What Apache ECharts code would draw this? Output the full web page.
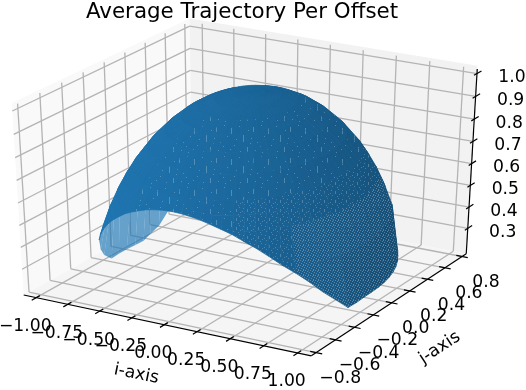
<!DOCTYPE html>
<html>
<head>
<meta charset="utf-8">
<style>html,body{margin:0;padding:0;background:#fff}#main{width:526px;height:390px}</style>
<script src="https://cdn.jsdelivr.net/npm/echarts@6/dist/echarts.min.js"></script>
</head>
<body>
<div id="main"></div>
<script>
// axis ticks
var iTicks = [-1, -0.75, -0.5, -0.25, 0, 0.25, 0.5, 0.75, 1];
var iLabels = ['\u22121.00', '\u22120.75', '\u22120.50', '\u22120.25', '0.00', '0.25', '0.50', '0.75', '1.00'];
var jTicks = [-0.8, -0.6, -0.4, -0.2, 0, 0.2, 0.4, 0.6, 0.8];
var jLabels = ['\u22120.8', '\u22120.6', '\u22120.4', '\u22120.2', '0.0', '0.2', '0.4', '0.6', '0.8'];
var zTicks = [0.3, 0.4, 0.5, 0.6, 0.7, 0.8, 0.9, 1.0];
var zLabels = ['0.3', '0.4', '0.5', '0.6', '0.7', '0.8', '0.9', '1.0'];
var iLim = [-1.1, 1.1];
var jLim = [-0.85, 0.85];
var zLim = [0.18, 1.02];

// height of the surface against distance from the centre of the i-j plane
var ringRadius = [0, 0.1, 0.2, 0.3, 0.4, 0.5, 0.6, 0.7, 0.75, 0.8, 0.85, 0.9, 0.95];
var ringHeight = [1, 0.995, 0.98, 0.954, 0.917, 0.866, 0.8, 0.714, 0.661, 0.6, 0.527, 0.436, 0.312];

// outer boundary of the surface, one entry per 5 degrees starting at -180
var edgeAngle = [-180, -175, -170, -165, -160, -155, -150, -145, -140, -135, -130, -125, -120, -115, -110, -105, -100, -95,
  -90, -85, -80, -75, -70, -65, -60, -55, -50, -45, -40, -35, -30, -25, -20, -15, -10, -5,
  0, 5, 10, 15, 20, 25, 30, 35, 40, 45, 50, 55, 60, 65, 70, 75, 80, 85,
  90, 95, 100, 105, 110, 115, 120, 125, 130, 135, 140, 145, 150, 155, 160, 165, 170, 175];
var edgeRadius = [0.90, 0.91, 0.92, 0.93, 0.945, 0.94, 0.93, 0.91, 0.89, 0.867, 0.845, 0.825, 0.805, 0.79, 0.777, 0.765, 0.757, 0.752,
  0.75, 0.752, 0.757, 0.765, 0.777, 0.79, 0.805, 0.825, 0.845, 0.867, 0.89, 0.91, 0.93, 0.95, 0.965, 0.98, 0.965, 0.95,
  0.945, 0.945, 0.945, 0.945, 0.945, 0.945, 0.945, 0.945, 0.95, 0.955, 0.96, 0.96, 0.96, 0.97, 0.97, 0.97, 0.97, 0.97,
  0.97, 0.97, 0.97, 0.97, 0.97, 0.97, 0.97, 0.97, 0.97, 0.975, 0.98, 0.97, 0.95, 0.94, 0.93, 0.93, 0.92, 0.90];
var edgeHeight = [0.21, 0.21, 0.21, 0.21, 0.25, 0.30, 0.367, 0.415, 0.456, 0.498, 0.535, 0.565, 0.593, 0.613, 0.63, 0.644, 0.653, 0.659,
  0.661, 0.659, 0.653, 0.644, 0.63, 0.613, 0.593, 0.565, 0.535, 0.498, 0.456, 0.415, 0.367, 0.312, 0.262, 0.21, 0.21, 0.21,
  0.21, 0.21, 0.21, 0.21, 0.21, 0.21, 0.21, 0.21, 0.21, 0.21, 0.21, 0.21, 0.21, 0.21, 0.21, 0.21, 0.21, 0.21,
  0.21, 0.21, 0.21, 0.21, 0.21, 0.21, 0.21, 0.21, 0.21, 0.21, 0.21, 0.24, 0.28, 0.30, 0.30, 0.24, 0.22, 0.21];

var font = 'DejaVu Sans';

// 3d camera, elevation 30 azimuth -60 at distance 10
function norm(p) {
  return [(p[0] - iLim[0]) / (iLim[1] - iLim[0]), (p[1] - jLim[0]) / (jLim[1] - jLim[0]), (p[2] - zLim[0]) / (zLim[1] - zLim[0])];
}
function boxProj(n) {
  var dx = n[0] - 0.5, dy = n[1] - 0.5, dz = n[2] - 0.5;
  var X = 0.866 * dx + 0.5 * dy;
  var Y = -0.25 * dx + 0.433 * dy + 0.866 * dz;
  var W = 0.433 * dx - 0.75 * dy + 0.5 * dz;
  return [X / (10 - W), Y / (10 - W), W];
}
function proj(i, j, z) {
  return boxProj(norm([i, j, z]));
}

// rows for line segments in the projected plane
var paneTop = 1.016;
function seg(a, b) {
  var p = boxProj(a), q = boxProj(b);
  return [p[0], p[1], q[0], q[1]];
}
var gridLines = [];
iTicks.forEach(function (v) {
  var n = norm([v, 0, 0.5])[0];
  gridLines.push(seg([n, 0, 0], [n, 1, 0]));
  gridLines.push(seg([n, 1, 0], [n, 1, 1]));
});
jTicks.forEach(function (v) {
  var n = norm([0, v, 0.5])[1];
  gridLines.push(seg([0, n, 0], [1, n, 0]));
  gridLines.push(seg([0, n, 0], [0, n, 1]));
});
zTicks.forEach(function (v) {
  var n = norm([0, 0, v])[2];
  gridLines.push(seg([0, 0, n], [0, 1, n]));
  gridLines.push(seg([0, 1, n], [1, 1, n]));
});

var axisLines = [seg([0, 0, 0], [1, 0, 0]), seg([1, 0, 0], [1, 1, 0]), seg([1, 1, 0], [1, 1, 1])];
iTicks.forEach(function (v) {
  var n = norm([v, 0, 0.5])[0];
  axisLines.push(seg([n, -0.025, 0], [n, 0.02, 0]));
});
jTicks.forEach(function (v) {
  var n = norm([0, v, 0.5])[1];
  axisLines.push(seg([1.02, n, 0], [0.98, n, 0]));
});
zTicks.forEach(function (v) {
  var n = norm([0, 0, v])[2];
  axisLines.push(seg([1, 1.03, n], [1, 0.98, n]));
});

var panes = [
  { color: '#f9f9f9', pts: [[0, 0, 0], [0, 1, 0], [0, 1, paneTop], [0, 0, paneTop]] },
  { color: '#f2f2f2', pts: [[0, 1, 0], [1, 1, 0], [1, 1, paneTop], [0, 1, paneTop]] },
  { color: '#f5f5f5', pts: [[0, 0, 0], [1, 0, 0], [1, 1, 0], [0, 1, 0]] }
].map(function (p) {
  return { color: p.color, pts: p.pts.map(boxProj) };
});

// labels, offsets in pixels from the tick on the axis
var labels = [];
iTicks.forEach(function (v, k) {
  var p = proj(v, jLim[0], zLim[0]);
  labels.push({ x: p[0], y: p[1], dx: -11, dy: 29, text: iLabels[k], rot: 0 });
});
jTicks.forEach(function (v, k) {
  var p = proj(iLim[1], v, zLim[0]);
  labels.push({ x: p[0], y: p[1], dx: 24, dy: 26, text: jLabels[k], rot: 0 });
});
zTicks.forEach(function (v, k) {
  var p = proj(iLim[1], jLim[1], v);
  labels.push({ x: p[0], y: p[1], dx: 35, dy: 4, text: zLabels[k], rot: 0 });
});
var iName = proj(-0.2, jLim[0], zLim[0]);
labels.push({ x: iName[0], y: iName[1], dx: -2, dy: 55, text: 'i-axis', rot: -0.2 });
var jName = proj(iLim[1], 0.1, zLim[0]);
labels.push({ x: jName[0], y: jName[1], dx: 39, dy: 51, text: 'j-axis', rot: 0.58 });

// surface mesh, one spoke of nodes per boundary entry
function node(r, deg, z) {
  var a = deg * Math.PI / 180;
  return [r * Math.cos(a), r * Math.sin(a), z];
}
var spokes = edgeAngle.map(function (deg, k) {
  var list = [];
  ringRadius.forEach(function (r, m) {
    if (r < edgeRadius[k] - 0.015) list.push(node(r, deg, ringHeight[m]));
  });
  list.push(node(edgeRadius[k], deg, edgeHeight[k]));
  return list;
});
var cells = [];
function addCell(pts, deg, rMid) {
  // newell normal in data units
  var nx = 0, ny = 0, nz = 0;
  pts.forEach(function (p, k) {
    var q = pts[(k + 1) % pts.length];
    nx += (p[1] - q[1]) * (p[2] + q[2]);
    ny += (p[2] - q[2]) * (p[0] + q[0]);
    nz += (p[0] - q[0]) * (p[1] + q[1]);
  });
  var len = Math.sqrt(nx * nx + ny * ny + nz * nz) || 1;
  if (nz < 0) len = -len;
  nx /= len; ny /= len; nz /= len;
  var s = -0.667 * nx - 0.667 * ny + 0.333 * nz;
  var ps = pts.map(norm).map(boxProj);
  var area = 0, w = 0;
  ps.forEach(function (p, k) {
    var q = ps[(k + 1) % ps.length];
    area += p[0] * q[1] - q[0] * p[1];
    w += p[2];
  });
  cells.push({ pts: ps, w: w / ps.length, shade: 0.79 + 0.19 * s, area: area, deg: deg, r: rMid });
}
edgeAngle.forEach(function (deg, k) {
  var a = spokes[k], b = spokes[(k + 1) % spokes.length];
  var common = Math.min(a.length, b.length) - 2;
  for (var m = 0; m < common; m++) {
    addCell([a[m], a[m + 1], b[m + 1], b[m]], deg + 2.5, ringRadius[m] + 0.05);
  }
  var poly = a.slice(common).concat(b.slice(common).reverse());
  addCell(poly, deg + 2.5, 0.92);
});
cells.sort(function (a, b) { return a.w - b.w; });

function tile(w, h, dots, color) {
  var c = document.createElement('canvas');
  c.width = w; c.height = h;
  var g = c.getContext('2d');
  g.fillStyle = color;
  dots.forEach(function (d) { g.fillRect(d[0], d[1], d[2] || 1, d[3] || 1); });
  return { image: c, repeat: 'repeat' };
}
var sparse = tile(37, 31, [[2, 1], [9, 4, 1, 6], [17, 2], [26, 6], [31, 3, 1, 5], [5, 12], [14, 15], [21, 11, 1, 7], [29, 14], [35, 18],
  [1, 22], [8, 25], [12, 21], [18, 27], [25, 23, 1, 5], [33, 26], [3, 28], [28, 19]], 'rgba(160,190,210,0.42)');
var medium = tile(11, 9, [[1, 1], [5, 2, 1, 3], [8, 0], [2, 6], [9, 5], [7, 7], [0, 4]], 'rgba(160,182,198,0.4)');
var dense = tile(5, 5, [[0, 0], [2, 1], [4, 2], [1, 3], [3, 4], [3, 0]], 'rgba(160,180,195,0.5)');

function cellStyle(c) {
  if (c.area <= 0) return { fill: 'rgba(31,119,180,0.68)' };
  var f = c.shade;
  var col = 'rgb(' + Math.round(31 * f) + ',' + Math.round(119 * f) + ',' + Math.round(180 * f) + ')';
  return { fill: col, stroke: col, lineWidth: 0.7 };
}
function cellPattern(c) {
  if (c.area <= 0) return null;
  var d = c.deg;
  if (d < -115 || d > 100 || c.r < 0.3) return null;
  if (c.r > 0.85 && d > -35 && d < 45) return dense;
  if (c.r > 0.7 && d > -60 && d < 60) return medium;
  return sparse;
}

var chart = echarts.init(document.getElementById('main'), null, { renderer: 'canvas' });

function polygonSeries(list, build) {
  return {
    type: 'custom', coordinateSystem: 'cartesian2d', silent: true, clip: false, animation: false, progressive: 0,
    data: list.map(function (o, k) { return [k, 0]; }),
    encode: { x: 0, y: 1 },
    renderItem: function (params, api) {
      var o = list[params.dataIndex];
      return build(o, api);
    }
  };
}
function shape(pts, api) {
  return pts.map(function (p) { return api.coord([p[0], p[1]]); });
}

var option = {
  animation: false,
  title: {
    text: 'Average Trajectory Per Offset', left: 237, top: -3, textAlign: 'center',
    textStyle: { fontFamily: font, fontSize: 21.4, fontWeight: 'normal', color: '#000' }
  },
  grid: { left: 0, top: 0, width: 526, height: 390 },
  // these two axes hold the projected plane of the 3d box
  xAxis: { type: 'value', show: false, min: -248.4 / 3320, max: (526 - 248.4) / 3320 },
  yAxis: { type: 'value', show: false, min: (183 - 390) / 2155, max: 183 / 2155 },
  series: [
    polygonSeries(panes, function (p, api) {
      return { type: 'polygon', shape: { points: shape(p.pts, api) }, style: { fill: p.color } };
    }),
    polygonSeries(gridLines, function (l, api) {
      var a = api.coord([l[0], l[1]]), b = api.coord([l[2], l[3]]);
      return { type: 'line', shape: { x1: a[0], y1: a[1], x2: b[0], y2: b[1] }, style: { stroke: '#b4b4b4', lineWidth: 1.3 } };
    }),
    polygonSeries(axisLines, function (l, api) {
      var a = api.coord([l[0], l[1]]), b = api.coord([l[2], l[3]]);
      return { type: 'line', shape: { x1: a[0], y1: a[1], x2: b[0], y2: b[1] }, style: { stroke: '#000', lineWidth: 1.2 } };
    }),
    polygonSeries(cells, function (c, api) {
      var pts = shape(c.pts, api);
      var kids = [{ type: 'polygon', shape: { points: pts }, style: cellStyle(c) }];
      var pat = cellPattern(c);
      if (pat) kids.push({ type: 'polygon', shape: { points: pts }, style: { fill: pat } });
      return { type: 'group', children: kids };
    }),
    polygonSeries(labels, function (t, api) {
      var p = api.coord([t.x, t.y]);
      return {
        type: 'text', x: p[0] + t.dx, y: p[1] + t.dy, rotation: t.rot,
        style: { text: t.text, fontFamily: font, fontSize: 17.2, fill: '#000', align: 'center', verticalAlign: 'middle' }
      };
    })
  ]
};
chart.setOption(option);
</script>
</body>
</html>
